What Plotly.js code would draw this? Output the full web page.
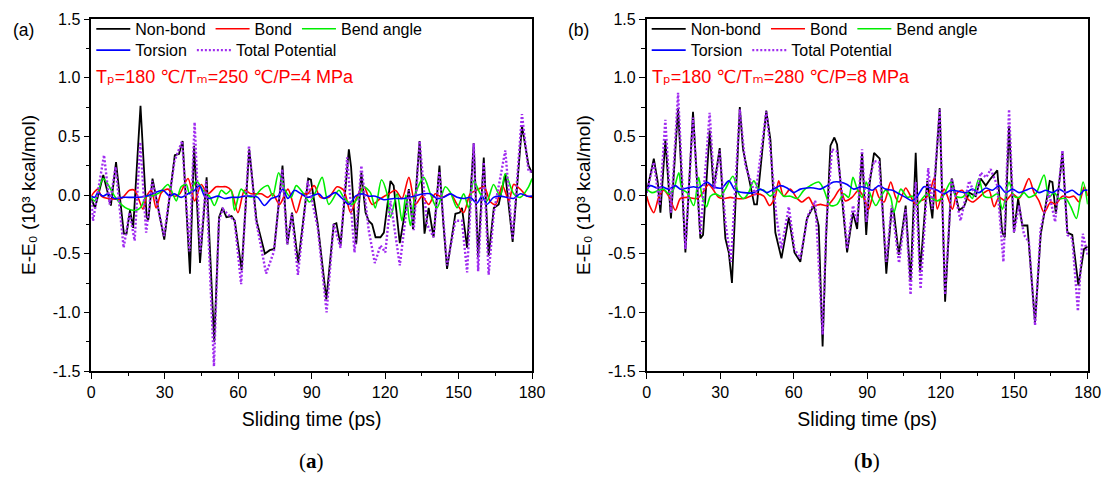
<!DOCTYPE html>
<html><head><meta charset="utf-8">
<script src="https://cdn.plot.ly/plotly-3.0.1.min.js"></script>
<style>html,body{margin:0;padding:0;background:#fff}</style>
</head><body><div id="chart" style="width:1108px;height:478px"></div>
<script>
// ---------------- data ----------------
const seriesNames = ['Non-bond', 'Bond', 'Bend angle', 'Torsion', 'Total Potential'];
const panelLabels = ['(a)', '(b)'];
const conditionText = ['T\u209A=180 \u2103/T\u2098=250 \u2103/P=4 MPa',
                       'T\u209A=180 \u2103/T\u2098=280 \u2103/P=8 MPa'];
const xTitle = 'Sliding time (ps)';
const yTitle = 'E-E\u2080 (10\u00B3 kcal/mol)';
const xTickVals = [0, 30, 60, 90, 120, 150, 180];
const yTickVals = [-1.5, -1.0, -0.5, 0.0, 0.5, 1.0, 1.5];
const yTickText = ['-1.5', '-1.0', '-0.5', '0.0', '0.5', '1.0', '1.5'];

// panel (a): Tp=180/Tm=250/P=4
const aNonbondT = [0,1.5,4.9,8.0,10.1,13.3,14.4,15.8,17.1,20.1,22.6,23.3,25.0,29.8,34.1,35.8,37.3,40.3,42.0,44.4,47.1,50.2,52.2,53.6,55.2,57.3,58.6,61.4,64.5,67.5,70.9,72.9,74.7,78.1,80.1,82.0,84.5,88.6,89.7,92.5,96.0,99.0,100.1,101.8,105.2,106.1,108.2,110.3,112.0,113.3,114.7,116.1,118.1,119.5,122.2,123.5,126.0,128.3,129.7,131.4,134.1,136.1,137.8,139.8,142.2,143.7,145.3,148.7,150.5,151.4,153.5,156.2,158.0,160.3,162.3,164.4,166.4,169.1,172.1,175.9,178.6,180];
const aNonbondE = [-0.03,-0.11,0.17,-0.09,0.28,-0.33,-0.33,-0.13,-0.28,0.76,-0.19,-0.21,0.14,-0.38,0.34,0.35,0.46,-0.67,0.42,-0.58,0.15,-1.25,-0.19,-0.11,-0.19,-0.18,-0.22,-0.64,0.39,-0.22,-0.5,-0.47,-0.46,0.25,-0.42,-0.15,-0.58,0.14,0.13,-0.25,-0.89,-0.25,-0.24,-0.43,0.39,0.24,-0.42,0.19,-0.15,-0.22,-0.25,-0.36,-0.36,-0.32,0.12,0.08,-0.41,-0.13,0.05,-0.29,0.46,-0.33,-0.11,-0.36,0.25,-0.22,-0.63,-0.16,-0.15,-0.11,-0.45,0.44,-0.53,0.32,-0.52,-0.11,-0.08,0.18,-0.40,0.59,0.25,0.19];
const aBondT = [0,1.4,2.7,4.1,6.8,12.2,15.6,17.7,21.1,22.4,24.5,26.5,28.6,31.3,33.7,36.1,39.5,42.2,44.9,47.6,51.0,53.1,55.1,57.1,59.9,62.6,65.3,69.4,72.1,74.1,76.9,80.3,83.7,86.4,88.4,91.0,93.6,97.0,100.4,103.1,105.9,108.6,111.3,114.7,118.1,121.5,124.2,126.9,129.7,132.4,135.1,137.8,140.5,143.3,146.7,149.4,152.1,154.8,158.2,160.4,163.1,165.2,167.9,170.6,172.5,175.2,178.0,180];
const aBondE = [-0.01,0.03,0.05,-0.01,-0.03,-0.03,0.04,0.04,-0.12,-0.02,0.04,-0.11,0.02,0.05,-0.01,0.01,0.14,-0.05,0.09,0.01,0.07,0.07,0.07,0.04,-0.15,0.04,0.01,0.01,-0.02,0.01,-0.08,0.05,-0.15,0.01,0.01,0.08,-0.02,-0.02,0.07,0.04,-0.15,-0.01,0.07,-0.08,-0.03,0.01,0.04,-0.03,0.15,-0.08,-0.01,-0.08,0.01,-0.02,0.01,-0.08,-0.15,0.01,0.05,0.07,-0.06,-0.08,0.08,-0.05,0.09,0.05,-0.01,-0.02];
const aBendT = [0,1.4,4.8,6.8,9.5,12.2,15.0,18.4,20.4,22.4,24.5,27.9,31.3,33.3,34.7,36.7,38.8,40.1,42.9,45.6,48.3,50.3,53.1,55.1,57.1,58.5,61.2,63.9,66.7,69.4,72.1,74.1,76.5,78.9,81.6,83.7,86.4,89.1,91.5,94.3,97.0,101.1,103.1,106.5,109.3,111.3,114.0,116.0,118.5,120.8,122.2,124.9,126.9,128.5,130.3,132.4,135.8,138.5,141.2,144.6,146.7,149.4,152.1,154.1,156.2,158.9,161.6,164.3,167.0,169.1,172.5,175.2,178.6,180];
const aBendE = [-0.02,-0.05,0.14,0.09,-0.01,-0.08,-0.12,-0.13,-0.1,-0.01,-0.01,0.02,0.09,0.01,-0.05,0.07,0.09,0.01,0.12,0.04,-0.01,-0.09,0.04,0.01,0.04,-0.13,0.05,-0.01,-0.01,0.05,0.08,-0.01,0.19,0.05,-0.02,0.08,0.02,-0.06,0.02,0.15,-0.08,0.04,-0.02,-0.08,-0.01,0.07,0.02,-0.11,0.13,0.01,-0.19,0.01,-0.22,0.0,-0.26,0.01,0.15,0.01,-0.11,0.07,0.02,-0.11,0.01,-0.11,0.12,0.01,-0.05,0.09,-0.01,0.18,0.01,-0.02,0.07,0.14];
const aTorsionT = [0,1.4,2.7,4.8,6.8,9.5,12.9,17.7,22.4,25.9,29.3,32.0,34.0,36.7,39.5,42.2,44.2,46.3,48.3,51.7,54.4,57.1,59.9,62.6,65.3,68.0,70.7,73.5,76.2,78.2,80.3,83.0,85.7,88.4,92.9,95.0,97.0,99.7,102.5,105.2,107.9,110.6,113.3,116.0,119.5,123.5,127.6,131.7,135.8,138.5,141.2,143.9,146.7,149.4,152.1,154.8,157.5,159.6,161.6,164.3,167.0,169.8,172.5,175.2,178.0,180];
const aTorsionE = [-0.01,-0.02,0.02,-0.01,0.01,-0.03,-0.02,-0.02,-0.01,0.02,0.04,-0.01,0.01,-0.02,0.01,0.04,0.08,-0.01,-0.03,-0.01,-0.03,-0.02,-0.02,-0.01,-0.01,-0.02,-0.09,-0.03,-0.01,0.05,-0.03,0.04,0.01,-0.02,0.01,-0.03,-0.01,0.02,-0.03,-0.08,-0.01,0.01,-0.01,-0.01,-0.04,-0.03,-0.03,-0.01,0.01,0.01,-0.03,-0.02,0.01,-0.02,-0.03,-0.02,-0.07,-0.01,-0.08,-0.02,-0.01,-0.02,-0.03,0.01,-0.01,-0.01];
const aTotalT = [0,0.7,5.2,7.5,9.9,13.2,15.6,17.7,20.0,22.4,24.9,29.7,34.0,37.1,40.1,42.2,44.5,46.9,50.1,52.1,53.7,58.5,61.2,64.4,67.3,71.4,74.6,78.0,80.0,81.9,84.4,88.4,92.5,96.1,99.0,101.8,104.5,107.5,110.3,113.3,115.8,118.1,120.1,122.2,126.0,129.7,131.7,134.1,137.1,139.8,142.2,145.3,148.7,151.4,153.5,156.2,158.0,160.3,162.3,164.4,169.1,172.1,175.9,178.6,180];
const aTotalE = [-0.05,-0.22,0.34,-0.08,0.24,-0.45,-0.15,-0.39,0.45,-0.32,0.12,-0.35,0.29,0.46,-0.48,0.62,-0.49,0.12,-1.46,-0.22,-0.12,-0.22,-0.76,0.42,-0.22,-0.67,-0.48,0.22,-0.42,-0.16,-0.68,0.12,-0.28,-1.0,-0.25,-0.45,0.32,-0.49,0.25,-0.3,-0.58,-0.43,-0.49,-0.05,-0.6,0.04,-0.3,0.46,-0.25,-0.36,0.2,-0.6,-0.22,-0.22,-0.66,0.44,-0.65,0.28,-0.68,-0.15,0.38,-0.38,0.69,0.2,0.2];

// panel (b): Tp=180/Tm=280/P=8
const bNonbondT = [0,2.9,4.5,5.6,7.6,9.9,12.8,15.8,18.9,21.9,23.0,25.7,27.3,29.8,32.1,33.5,34.8,38.0,39.3,41.0,43.9,45.0,48.8,50.5,52.5,55.0,58.0,60.3,62.7,65.4,68.2,70.2,71.8,73.3,75.0,76.6,77.7,79.7,81.8,84.2,85.9,87.9,89.6,91.0,92.8,95.1,97.8,100.0,100.9,102.9,105.7,107.7,109.8,111.6,114.5,116.6,119.6,121.8,124.5,127.5,129.5,131.6,134.3,136.3,138.4,140.4,143.1,145.1,146.2,147.9,149.9,151.6,153.3,155.4,158.5,160.8,164.5,165.6,167.0,169.7,171.7,173.7,176.2,178.5,180];
const bNonbondE = [0.02,0.31,0.11,-0.15,0.47,-0.2,0.74,-0.49,0.71,-0.37,-0.34,0.55,0.05,0.40,-0.37,-0.49,-0.75,0.75,0.39,0.22,-0.08,-0.08,0.72,0.47,-0.32,-0.54,-0.19,-0.49,-0.57,-0.2,-0.09,-0.26,-1.29,-0.32,0.42,0.49,0.43,-0.03,-0.49,-0.15,-0.29,0.36,-0.34,0.1,0.36,0.31,-0.67,-0.11,-0.15,-0.51,-0.09,-0.74,0.36,-0.66,0.12,-0.2,0.74,-0.91,0.14,-0.13,-0.1,0.02,-0.01,0.14,0.08,0.14,0.21,-0.32,-0.36,0.59,-0.32,-0.03,-0.26,-0.26,-1.09,-0.34,0.12,0.11,-0.16,0.36,-0.32,-0.34,-0.77,-0.46,-0.44];
const bBondT = [0,1.2,2.9,4.9,6.9,9.0,11.7,13.7,16.5,20.5,22.6,25.3,27.3,29.4,31.4,34.1,36.9,39.6,42.3,45.0,47.8,50.2,52.5,53.9,55.9,58.6,61.4,63.4,66.1,68.2,70.9,73.6,76.3,79.0,81.1,83.8,86.5,88.6,90.6,93.2,94.8,96.9,99.6,101.6,103.0,105.7,107.7,109.8,111.8,113.9,115.9,117.3,118.6,121.4,123.4,124.8,126.8,128.8,130.9,133.0,135.6,137.7,139.7,141.8,143.8,146.5,149.3,152.0,154.0,156.0,158.1,160.1,162.2,164.9,166.9,169.7,172.4,174.4,176.5,178.6,180];
const bBondE = [-0.01,-0.09,-0.15,-0.02,0.04,-0.01,-0.13,-0.03,-0.02,-0.03,0.01,0.09,0.04,-0.02,-0.03,-0.02,-0.03,-0.03,-0.01,0.01,-0.01,-0.09,-0.01,0.12,-0.01,0.05,-0.03,-0.06,-0.02,-0.09,-0.08,-0.09,-0.03,0.05,-0.05,-0.02,0.04,-0.02,-0.12,0.06,-0.02,-0.06,0.11,-0.02,-0.06,0.06,-0.01,-0.08,-0.05,-0.03,0.05,0.14,-0.12,0.05,-0.05,-0.12,0.02,0.04,-0.03,-0.06,-0.02,0.02,0.04,-0.1,-0.02,-0.05,0.01,-0.03,0.05,0.14,0.02,-0.05,-0.15,-0.06,-0.08,-0.01,-0.02,-0.01,-0.06,0.07,-0.01];
const bBendT = [0,2.2,4.9,6.9,9.0,11.0,13.1,14.4,16.5,19.2,21.2,22.6,24.4,26.0,28.0,30.1,32.1,35.2,37.6,39.6,41.6,43.7,45.7,47.8,50.5,53.2,55.9,58.6,61.4,64.1,66.8,70.2,72.2,75.0,77.7,80.4,82.4,84.2,85.9,87.9,89.6,91.0,93.5,95.5,97.5,99.6,100.9,103.7,106.4,108.4,110.5,112.5,114.6,116.6,118.6,120.7,124.1,126.1,128.8,130.9,132.9,135.6,137.7,140.4,143.1,145.2,147.9,149.9,152.0,154.0,156.0,158.8,162.2,164.2,166.3,168.3,171.0,173.1,175.4,178.1,180];
const bBendE = [0.05,0.02,0.04,0.05,0.01,0.05,0.19,0.05,0.02,-0.09,0.15,-0.01,-0.1,-0.01,0.01,-0.01,0.05,0.16,0.01,-0.03,0.02,0.12,0.05,0.04,-0.01,0.05,-0.01,-0.01,-0.03,0.04,0.08,0.11,0.05,-0.09,-0.08,0.01,-0.02,0.15,0.05,-0.02,0.11,0.02,-0.09,-0.02,0.04,-0.02,-0.15,0.05,-0.02,-0.01,-0.08,-0.03,0.01,-0.03,-0.05,-0.02,0.11,-0.01,-0.02,0.02,-0.03,0.14,-0.01,-0.02,0.01,-0.12,0.11,-0.01,-0.02,0.02,-0.02,0.01,0.17,-0.02,0.02,-0.03,-0.03,-0.1,-0.2,0.11,-0.08];
const bTorsionT = [0,1.5,4.2,6.3,9.0,11.7,13.7,16.5,19.2,21.2,24.6,27.3,30.7,33.5,36.2,39.6,43.7,46.4,49.1,51.8,54.6,57.3,60.0,62.7,65.4,68.2,70.9,73.6,76.3,79.0,81.8,84.5,87.2,89.9,92.1,94.8,97.5,100.3,103.0,105.7,108.4,110.5,113.2,115.9,118.6,121.4,124.1,127.5,130.2,132.9,135.6,138.4,141.1,143.8,146.5,149.3,152.0,154.7,157.4,160.1,162.9,165.6,168.3,171.0,173.7,176.5,178.5,180];
const bTorsionE = [0.05,0.08,0.06,0.07,0.05,0.08,0.05,0.06,0.07,0.06,0.11,0.07,0.06,0.12,0.04,0.02,0.02,0.05,0.02,0.05,0.08,0.06,0.02,0.05,0.06,0.06,0.05,0.08,0.11,0.11,0.09,0.05,0.07,0.06,0.04,0.08,0.05,0.04,0.01,-0.02,-0.05,-0.01,0.07,0.06,0.04,0.01,0.04,0.03,0.02,0.05,0.02,0.06,0.04,0.08,0.02,0.05,0.02,0.04,0.06,0.02,0.04,0.02,0.05,0.02,0.04,0.0,0.04,0.04];
const bTotalT = [0,2.9,5.3,7.6,9.9,12.8,15.8,18.9,21.9,25.7,27.6,29.8,32.1,34.4,38.0,40.3,44.4,48.8,50.5,52.9,55.0,58.0,60.3,62.7,65.7,68.8,71.8,73.3,75.6,77.7,80.1,81.8,84.2,85.9,87.9,89.7,91.0,92.8,94.8,97.8,100.0,103.0,105.7,107.7,109.8,111.8,114.9,116.6,119.6,121.8,124.5,128.1,131.6,134.3,136.3,138.6,140.4,143.1,145.6,147.9,149.9,152.0,154.0,156.0,158.5,160.8,164.2,166.7,169.7,171.7,173.7,176.0,178.0,180];
const bTotalE = [0.02,0.28,-0.09,0.64,-0.15,0.87,-0.46,0.66,-0.34,0.70,0.05,0.38,-0.23,-0.57,0.73,0.25,0.0,0.71,0.39,-0.18,-0.46,-0.1,-0.46,-0.54,-0.18,-0.05,-1.19,-0.26,0.39,0.37,-0.06,-0.46,-0.09,-0.23,0.39,-0.23,0.14,0.29,0.28,-0.57,-0.09,-0.58,-0.12,-0.85,0.11,-0.8,0.23,-0.12,0.73,-0.85,0.14,-0.22,0.12,-0.01,0.19,0.15,0.22,0.08,-0.57,0.73,-0.32,-0.09,-0.34,-0.4,-1.11,-0.29,0.02,-0.23,0.38,-0.34,-0.37,-0.99,-0.33,-0.51];

// ---------------- styles ----------------
const FONT = 'Liberation Sans, Arial, DejaVu Sans, sans-serif';
const lineStyles = [
  {color:'#000000', width:1.8, dash:'solid',   shape:'linear'},
  {color:'#ff0000', width:1.6, dash:'solid',   shape:'spline'},
  {color:'#00ee00', width:1.6, dash:'solid',   shape:'spline'},
  {color:'#0000ff', width:1.6, dash:'solid',   shape:'spline'},
  {color:'#a02cf0', width:2.4, dash:'2px,2px', shape:'linear'}
];
// which in-panel legend row each series sits in (row 0: first three, row 1: last two)
const legendRow = [0, 0, 0, 1, 1];
const panels = [
  {x:'x',  y:'y',  legends:['legend','legend2'], data:[[aNonbondT,aNonbondE],[aBondT,aBondE],[aBendT,aBendE],[aTorsionT,aTorsionE],[aTotalT,aTotalE]]},
  {x:'x2', y:'y2', legends:['legend3','legend4'], data:[[bNonbondT,bNonbondE],[bBondT,bBondE],[bBendT,bBendE],[bTorsionT,bTorsionE],[bTotalT,bTotalE]]}
];

const traces = [];
panels.forEach(p => {
  p.data.forEach((d, i) => {
    const s = lineStyles[i];
    traces.push({
      type:'scatter', mode:'lines', x:d[0], y:d[1], name:seriesNames[i],
      xaxis:p.x, yaxis:p.y, showlegend:true, legend:p.legends[legendRow[i]],
      line:{color:s.color, width:s.width, dash:s.dash, shape:s.shape, smoothing:0.8},
      hoverinfo:'skip'
    });
  });
});

// geometry (pixels)
const W = 1108, H = 478;
const frameL = [91.3, 646.7], frameR = [532, 1087.7], frameT = 16.5, frameB = 371.5;
const mL = 91, mR = 20, mT = frameT, mB = H - frameB;
const plotW = W - mL - mR, plotH = H - mT - mB;
const dom = i => [(frameL[i]-mL)/plotW, (frameR[i]-mL)/plotW];
const px = X => (X - mL)/plotW;
const py = Y => (frameB - Y)/plotH;

function axisX(i) {
  return {
    domain: dom(i), range:[0,180], anchor: i===0?'y':'y2',
    tickvals:xTickVals, ticktext:xTickVals.map(String),
    showline:true, mirror:true, linecolor:'#000', linewidth:1.6,
    ticks:'outside', ticklen:6, tickwidth:1.3, tickcolor:'#000',
    minor:{ticks:'outside', ticklen:3.5, tickwidth:1.3, tickcolor:'#000', dtick:15, tick0:0, showgrid:false},
    showgrid:false, zeroline:false, automargin:false,
    tickfont:{family:FONT, size:16, color:'#000'},
    title:{text:xTitle, font:{family:FONT, size:19.5, color:'#000'}, standoff:12}
  };
}
function axisY(i) {
  return {
    domain:[0,1], range:[-1.5,1.5], anchor: i===0?'x':'x2',
    tickvals:yTickVals, ticktext:yTickText,
    showline:true, mirror:true, linecolor:'#000', linewidth:1.6,
    ticks:'outside', ticklen:6, tickwidth:1.3, tickcolor:'#000',
    minor:{ticks:'outside', ticklen:3.5, tickwidth:1.3, tickcolor:'#000', dtick:0.25, tick0:0, showgrid:false},
    showgrid:false, zeroline:false, automargin:false,
    tickfont:{family:FONT, size:16, color:'#000'},
    title:{text:yTitle, font:{family:FONT, size:19, color:'#000'}, standoff:12}
  };
}
function legendBox(panelIdx, rowY) {
  return {
    orientation:'h', x:px(frameL[panelIdx]), xanchor:'left', y:py(rowY), yanchor:'middle',
    bgcolor:'rgba(0,0,0,0)', borderwidth:0, itemclick:false, itemdoubleclick:false,
    font:{family:FONT, size:16, color:'#000'}, tracegroupgap:0, itemwidth:34
  };
}

const annotations = [];
panels.forEach((p, pi) => {
  annotations.push({xref:'paper', yref:'paper', x:px(frameL[pi] + 3), y:py(74.5), xanchor:'left', yanchor:'middle',
    text:conditionText[pi], showarrow:false, font:{family:FONT, size:18, color:'#ff0000'}});
  annotations.push({xref:'paper', yref:'paper', x:px(frameL[pi] - 68), y:py(28), xanchor:'center', yanchor:'middle',
    text:panelLabels[pi], showarrow:false, font:{family:FONT, size:17.5, color:'#000'}});
  annotations.push({xref:'paper', yref:'paper', x:px((frameL[pi]+frameR[pi])/2), y:py(462), xanchor:'center', yanchor:'middle',
    text:'(<b>' + panelLabels[pi].slice(1,2) + '</b>)', showarrow:false, font:{family:'Liberation Serif, Times New Roman, serif', size:21, color:'#000'}});
});

const layout = {
  width:W, height:H,
  margin:{l:mL, r:mR, t:mT, b:mB},
  paper_bgcolor:'#ffffff', plot_bgcolor:'#ffffff',
  showlegend:true,
  legend:legendBox(0, 26.5), legend2:legendBox(0, 48),
  legend3:legendBox(1, 26.5), legend4:legendBox(1, 48),
  font:{family:FONT, size:16, color:'#000'},
  xaxis:axisX(0), yaxis:axisY(0), xaxis2:axisX(1), yaxis2:axisY(1),
  annotations:annotations
};
Plotly.newPlot('chart', traces, layout, {displayModeBar:false});
</script>
</body></html>
